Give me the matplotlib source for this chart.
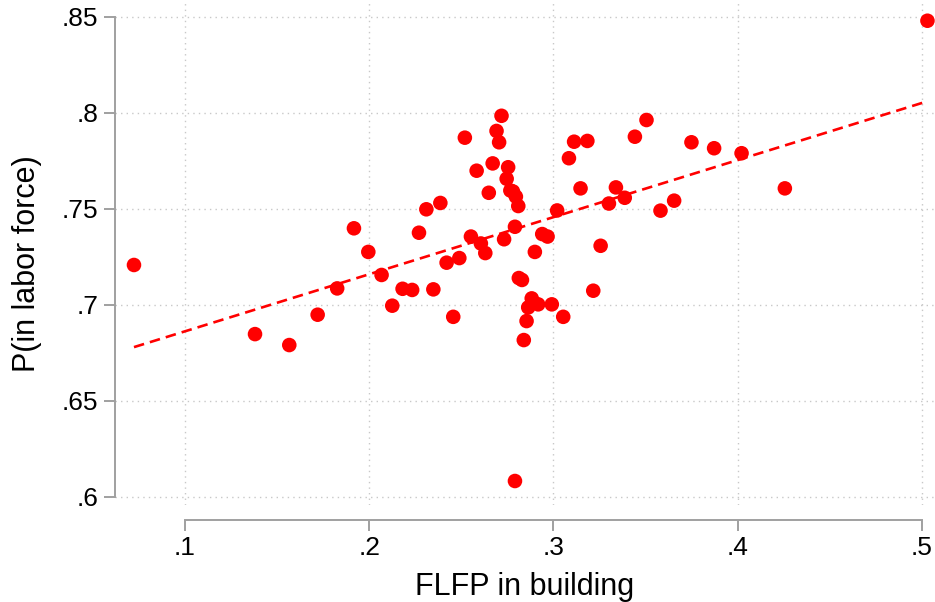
import numpy as np
import matplotlib
matplotlib.use("Agg")
import matplotlib.pyplot as plt

plt.rcParams['font.family'] = ['Liberation Sans', 'DejaVu Sans']

# FLFP share in building vs. probability of being in the labor force
flfp = [0.0723, 0.1380, 0.1566, 0.1720, 0.1826, 0.1917, 0.1995, 0.2067,
        0.2125, 0.2181, 0.2233, 0.2270, 0.2310, 0.2348, 0.2386, 0.2420,
        0.2456, 0.2489, 0.2519, 0.2552, 0.2583, 0.2606, 0.2630, 0.2649,
        0.2670, 0.2691, 0.2705, 0.2718, 0.2732, 0.2746, 0.2754, 0.2766,
        0.2780, 0.2796, 0.2809, 0.2791, 0.2791, 0.2812, 0.2829, 0.2882,
        0.2863, 0.2917, 0.2991, 0.3053, 0.2854, 0.2839, 0.2899, 0.2939,
        0.2968, 0.3020, 0.3084, 0.3112, 0.3184, 0.3147, 0.3216, 0.3256,
        0.3301, 0.3339, 0.3387, 0.3442, 0.3505, 0.3581, 0.3655, 0.3749,
        0.3872, 0.4021, 0.4256, 0.5030]
p_lf = [0.7207, 0.6847, 0.6790, 0.6948, 0.7085, 0.7398, 0.7275, 0.7155,
        0.6995, 0.7083, 0.7077, 0.7375, 0.7497, 0.7080, 0.7530, 0.7219,
        0.6937, 0.7243, 0.7870, 0.7355, 0.7698, 0.7319, 0.7269, 0.7583,
        0.7736, 0.7905, 0.7846, 0.7984, 0.7341, 0.7656, 0.7716, 0.7595,
        0.7590, 0.7563, 0.7514, 0.7406, 0.6082, 0.7139, 0.7129, 0.7033,
        0.6986, 0.7002, 0.7002, 0.6937, 0.6915, 0.6816, 0.7275, 0.7368,
        0.7355, 0.7491, 0.7763, 0.7849, 0.7853, 0.7606, 0.7073, 0.7307,
        0.7527, 0.7611, 0.7557, 0.7875, 0.7962, 0.7490, 0.7542, 0.7846,
        0.7815, 0.7789, 0.7606, 0.8479]

xticks = [0.1, 0.2, 0.3, 0.4, 0.5]
xticklabels = ['.1', '.2', '.3', '.4', '.5']
yticks = [0.6, 0.65, 0.7, 0.75, 0.8, 0.85]
yticklabels = ['.6', '.65', '.7', '.75', '.8', '.85']

x = np.array(flfp)
y = np.array(p_lf)
slope, intercept = np.polyfit(x, y, 1)
xs = np.array([x.min(), x.max()])

fig = plt.figure(figsize=(9.35, 6.02), dpi=100)
ax = fig.add_axes([115 / 935, 1 - 505 / 602, 820 / 935, 505 / 602])

ax.scatter(x, y, s=110, color='#ff0000', edgecolors='none', zorder=3)
ax.plot(xs, intercept + slope * xs, color='#ff0000', lw=1.9,
        dashes=(4.0, 2.3), zorder=2)

ax.set_xlim(0.0620, 0.5071)
ax.set_ylim(0.5957, 0.8587)
ax.set_xticks(xticks)
ax.set_xticklabels(xticklabels)
ax.set_yticks(yticks)
ax.set_yticklabels(yticklabels)

ax.grid(True, color='#c8c8c8', linestyle=(0, (1, 3)), linewidth=1)
ax.set_axisbelow(True)

for side in ['top', 'right']:
    ax.spines[side].set_visible(False)
for side in ['left', 'bottom']:
    ax.spines[side].set_color('#a0a0a0')
    ax.spines[side].set_linewidth(1.4)
ax.spines['left'].set_bounds(0.6, 0.85)
ax.spines['bottom'].set_bounds(0.1, 0.5)
ax.spines['bottom'].set_position(('outward', 11))

ax.tick_params(axis='both', direction='out', length=8, width=1.4,
               color='#a0a0a0', labelsize=19)
ax.tick_params(axis='x', pad=3)
ax.tick_params(axis='y', pad=4)

ax.set_xlabel('FLFP in building', fontsize=22, labelpad=9)
ax.set_ylabel('P(in labor force)', fontsize=22)
ax.yaxis.set_label_coords(-0.089, 0.478)

fig.savefig('out.png', dpi=100)
